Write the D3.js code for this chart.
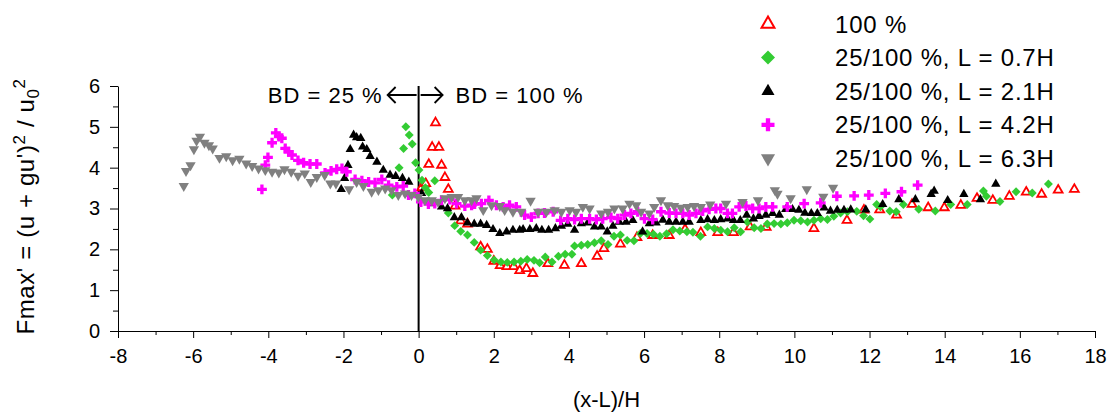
<!DOCTYPE html>
<html>
<head>
<meta charset="utf-8">
<script src="https://cdn.jsdelivr.net/npm/d3@7"></script>
<style>
  body { margin: 0; background: #fff; }
  svg { font-family: "Liberation Sans", Arial, sans-serif; }
</style>
</head>
<body>
<script>
// series: [ (x-L)/H , Fmax' ]
var red100 = [[0.08,3.51],[0.19,3.61],[0.27,4.08],[0.36,4.50],[0.45,5.10],[0.54,4.50],[0.61,4.06],[0.70,3.76],[0.79,3.47],[0.97,3.06],[1.12,2.70],[1.30,2.62],[1.65,2.06],[1.83,2.00],[2.00,1.71],[2.17,1.60],[2.35,1.58],[2.53,1.58],[2.69,1.48],[2.87,1.53],[3.04,1.41],[3.44,1.65],[3.88,1.61],[4.33,1.65],[4.75,1.83],[4.93,2.02],[5.37,2.13],[5.81,2.29],[6.23,2.34],[6.67,2.34],[7.09,2.49],[7.51,2.41],[7.96,2.41],[8.38,2.41],[8.82,2.55],[9.25,2.54],[10.52,2.51],[11.40,2.71],[11.85,2.96],[12.27,2.97],[12.72,2.84],[13.13,3.10],[13.56,3.02],[13.99,3.02],[14.43,3.08],[14.86,3.25],[15.28,3.20],[15.72,3.30],[16.17,3.40],[16.58,3.35],[17.02,3.45],[17.45,3.47]];

var green07 = [[-0.70,3.33],[-0.52,4.00],[-0.40,4.47],[-0.34,5.00],[-0.25,4.80],[-0.17,4.58],[-0.08,4.12],[0.01,3.94],[0.09,3.69],[0.18,3.51],[0.27,3.39],[0.43,3.68],[0.79,2.89],[0.96,2.58],[1.12,2.44],[1.30,2.35],[1.48,2.17],[1.65,1.98],[1.83,1.85],[2.01,1.74],[2.19,1.69],[2.36,1.68],[2.54,1.69],[2.72,1.71],[2.89,1.75],[3.07,1.73],[3.22,1.67],[3.37,1.81],[3.55,1.69],[3.72,1.83],[3.90,1.88],[4.08,1.88],[4.15,2.08],[4.33,2.10],[4.50,2.12],[4.68,2.16],[4.86,2.21],[5.04,2.12],[5.20,2.32],[5.37,2.35],[5.55,2.22],[5.73,2.21],[5.90,2.39],[6.08,2.39],[6.25,2.37],[6.42,2.32],[6.60,2.38],[6.77,2.48],[6.95,2.45],[7.14,2.43],[7.30,2.42],[7.50,2.32],[7.69,2.55],[7.87,2.51],[8.04,2.47],[8.22,2.43],[8.40,2.53],[8.57,2.43],[8.75,2.67],[8.93,2.53],[9.11,2.51],[9.28,2.62],[9.46,2.63],[9.64,2.62],[9.81,2.65],[9.99,2.71],[10.17,2.70],[10.35,2.67],[10.52,2.71],[10.70,2.75],[10.88,2.73],[11.05,2.81],[11.23,2.89],[11.41,2.92],[11.66,2.93],[11.84,2.82],[12.01,2.74],[12.19,3.10],[12.29,3.04],[12.54,2.94],[12.71,2.92],[12.90,3.10],[13.31,2.98],[13.75,2.94],[14.16,3.10],[14.60,3.10],[15.03,3.43],[15.11,3.30],[15.47,3.17],[15.90,3.41],[16.33,3.38],[16.76,3.60]];

var black21 = [[-2.06,3.47],[-1.97,3.74],[-1.88,4.06],[-1.82,4.45],[-1.73,4.80],[-1.65,4.74],[-1.54,4.72],[-1.49,4.51],[-1.38,4.45],[-1.29,4.28],[-1.11,4.14],[-0.94,3.94],[-0.76,3.82],[-0.61,3.79],[-0.43,3.74],[-0.26,3.65],[0.08,3.37],[0.35,3.12],[0.61,3.04],[0.77,3.00],[0.95,2.78],[1.14,2.78],[1.30,2.65],[1.48,2.62],[1.65,2.62],[1.81,2.59],[1.98,2.49],[2.16,2.39],[2.34,2.43],[2.51,2.47],[2.69,2.47],[2.78,2.49],[2.96,2.49],[3.13,2.51],[3.28,2.47],[3.46,2.47],[3.64,2.51],[3.80,2.57],[3.97,2.62],[4.15,2.47],[4.33,2.63],[4.50,2.65],[4.68,2.55],[4.86,2.55],[5.02,2.43],[5.17,2.57],[5.34,2.67],[5.52,2.67],[5.70,2.71],[5.96,2.43],[6.14,2.63],[6.32,2.65],[6.50,2.72],[6.67,2.67],[6.85,2.67],[7.03,2.67],[7.20,2.67],[7.51,2.71],[7.69,2.73],[7.87,2.71],[8.04,2.73],[8.22,2.75],[8.38,2.71],[8.56,2.71],[8.73,2.84],[8.91,2.75],[9.06,2.81],[9.24,2.84],[9.42,2.88],[9.60,2.84],[9.77,2.98],[9.95,2.98],[10.12,2.96],[10.28,2.89],[10.45,2.88],[10.61,2.88],[10.79,3.02],[10.96,2.94],[11.14,2.96],[11.32,2.96],[11.50,2.97],[11.90,2.97],[12.35,3.10],[12.78,3.22],[13.22,3.22],[13.64,3.35],[13.72,3.43],[14.08,3.20],[14.51,3.35],[14.95,3.22],[15.36,3.60]];

var magenta42 = [[-4.17,3.47],[-4.08,4.06],[-4.01,4.25],[-3.90,4.61],[-3.80,4.85],[-3.72,4.76],[-3.64,4.72],[-3.55,4.47],[-3.46,4.39],[-3.37,4.31],[-3.21,4.18],[-3.06,4.12],[-2.89,4.09],[-2.71,4.09],[-2.49,3.87],[-2.33,3.92],[-2.18,3.96],[-2.04,3.98],[-1.91,3.90],[-1.69,3.71],[-1.51,3.68],[-1.33,3.65],[-1.16,3.63],[-0.98,3.71],[-0.80,3.57],[-0.58,3.53],[-0.41,3.55],[-0.27,3.33],[-0.10,3.37],[0.06,3.16],[0.26,3.11],[0.43,3.12],[0.61,3.20],[0.83,3.22],[1.01,3.12],[1.23,3.06],[1.41,3.08],[1.49,3.11],[1.67,3.12],[1.87,3.20],[2.07,3.08],[2.25,3.04],[2.42,3.08],[2.60,3.04],[2.82,2.84],[3.00,2.79],[3.18,2.88],[3.35,2.89],[3.58,2.92],[3.78,2.71],[3.97,2.75],[4.15,2.73],[4.33,2.75],[4.55,2.75],[4.73,2.73],[4.90,2.75],[5.12,2.78],[5.30,2.75],[5.48,2.84],[5.65,2.88],[5.83,2.92],[6.01,2.75],[6.23,2.73],[6.45,2.92],[6.67,2.89],[6.85,2.88],[7.03,2.88],[7.20,2.84],[7.38,2.88],[7.56,2.94],[7.73,2.98],[7.91,3.00],[8.04,3.00],[8.22,2.88],[8.35,2.88],[8.53,3.04],[8.71,3.06],[8.89,3.00],[9.06,3.00],[9.24,3.04],[9.42,3.04],[9.81,3.04],[10.26,3.12],[10.70,3.14],[11.13,3.30],[11.59,3.31],[11.98,3.33],[12.42,3.37],[12.85,3.41],[13.28,3.57]];

var gray63 = [[-6.25,3.55],[-6.19,3.92],[-6.07,4.06],[-5.98,4.45],[-5.91,4.66],[-5.82,4.76],[-5.70,4.61],[-5.58,4.55],[-5.48,4.47],[-5.30,4.24],[-5.12,4.28],[-4.95,4.18],[-4.77,4.22],[-4.59,4.10],[-4.43,4.04],[-4.26,3.98],[-4.08,3.94],[-3.90,3.90],[-3.72,3.88],[-3.57,3.96],[-3.39,3.90],[-3.21,3.80],[-3.03,3.86],[-2.87,3.65],[-2.71,3.77],[-2.50,3.82],[-2.35,3.61],[-2.20,3.61],[-1.85,3.47],[-1.65,3.65],[-1.47,3.55],[-1.25,3.41],[-1.07,3.45],[-0.89,3.49],[-0.72,3.45],[-0.54,3.33],[-0.36,3.37],[-0.19,3.33],[-0.01,3.28],[0.17,3.20],[0.35,3.20],[0.52,3.16],[0.70,3.25],[0.88,3.28],[1.05,3.28],[1.23,3.20],[1.41,3.20],[1.54,3.25],[1.72,2.96],[1.94,3.08],[2.16,3.06],[2.29,2.96],[2.51,2.92],[2.73,2.92],[2.98,3.19],[3.18,2.92],[3.40,2.92],[3.62,2.96],[3.80,2.92],[4.02,2.96],[4.19,2.92],[4.37,3.04],[4.55,3.00],[4.86,2.88],[5.04,2.92],[5.21,3.00],[5.43,3.00],[5.61,3.12],[5.79,3.08],[5.92,2.92],[6.14,2.88],[6.27,3.04],[6.45,3.20],[6.63,3.08],[6.80,3.06],[6.98,3.02],[7.16,3.04],[7.33,3.06],[7.51,3.04],[7.76,3.10],[8.18,3.12],[8.62,3.16],[9.03,3.20],[9.48,3.45],[9.55,3.36],[9.90,3.25],[10.33,3.47],[10.77,3.29],[11.03,3.51]];

var seriesNames = ["100 %", "25/100 %, L = 0.7H", "25/100 %, L = 2.1H", "25/100 %, L = 4.2H", "25/100 %, L = 6.3H"];
var xTicks = [-8, -6, -4, -2, 0, 2, 4, 6, 8, 10, 12, 14, 16, 18];
var yTicks = [0, 1, 2, 3, 4, 5, 6];

var width = 1109, height = 414;

var x = d3.scaleLinear().domain([-8, 18]).range([118, 1095]);
var y = d3.scaleLinear().domain([0, 6]).range([331, 86]);

var svg = d3.select("body").append("svg")
	.attr("width", width)
	.attr("height", height);

// marker styles, one per series
var tri = d3.symbolTriangle, sq = d3.symbolSquare, cross = d3.symbolCross;
var styles = [
	{ data: red100, type: tri, size: 34, lsize: 72, fill: "#fff", stroke: "#ff0000", sw: 1.8, rot: 0 },
	{ data: green07, type: sq, size: 40, lsize: 98, fill: "#33cc33", stroke: "none", sw: 0, rot: 45 },
	{ data: black21, type: tri, size: 38, lsize: 74, fill: "#000", stroke: "none", sw: 0, rot: 0 },
	{ data: magenta42, type: cross, size: 54, lsize: 94, fill: "#ff00ff", stroke: "none", sw: 0, rot: 0 },
	{ data: gray63, type: tri, size: 46, lsize: 86, fill: "#808080", stroke: "none", sw: 0, rot: 180 }
];

// hyphen minus like the original, not the unicode one d3 uses
var fmt = function (d) { return String(d); };

// vertical divider at x = 0
svg.append("line")
	.attr("x1", x(0)).attr("x2", x(0))
	.attr("y1", y(0)).attr("y2", y(6))
	.attr("stroke", "#000").attr("stroke-width", 2);

// y axis, major + minor
svg.append("g")
	.attr("transform", "translate(" + x(-8) + ",0)")
	.call(d3.axisLeft(y).tickValues(d3.range(0.5, 6, 1)).tickSize(5).tickFormat(""))
	.call(g => g.select(".domain").remove());
svg.append("g")
	.attr("transform", "translate(" + x(-8) + ",0)")
	.call(d3.axisLeft(y).tickValues(yTicks).tickFormat(fmt).tickSize(8).tickSizeOuter(0).tickPadding(10));

// x axis, major + minor
svg.append("g")
	.attr("transform", "translate(0," + y(0) + ")")
	.call(d3.axisBottom(x).tickValues(d3.range(-7, 18, 2)).tickSize(4).tickFormat(""))
	.call(g => g.select(".domain").remove());
svg.append("g")
	.attr("transform", "translate(0," + y(0) + ")")
	.call(d3.axisBottom(x).tickValues(xTicks).tickFormat(fmt).tickSize(7).tickSizeOuter(0).tickPadding(11));

svg.selectAll(".tick text").attr("font-size", 20).attr("font-family", "Liberation Sans, Arial, sans-serif").attr("fill", "#000");
svg.selectAll(".domain, .tick line").attr("stroke", "#000").attr("stroke-width", 1);

// axis titles
svg.append("text")
	.attr("x", (x(-8) + x(18)) / 2).attr("y", 407)
	.attr("text-anchor", "middle").attr("font-size", 22)
	.text("(x-L)/H");

var yt = svg.append("text")
	.attr("transform", "translate(34," + ((y(0) + y(6)) / 2 - 2) + ") rotate(-90)")
	.attr("text-anchor", "middle").attr("font-size", 24).attr("letter-spacing", 0.6);
yt.append("tspan").text("Fmax' = (u + gu')");
yt.append("tspan").attr("font-size", 17).attr("dy", -9).text("2");
yt.append("tspan").attr("dy", 9).text(" / u");
yt.append("tspan").attr("font-size", 17).attr("dy", 5).text("0");
yt.append("tspan").attr("font-size", 17).attr("dy", -14).text("2");

// BD annotation with arrows either side of the divider
var ay = 95;
svg.append("text")
	.attr("x", x(0) - 36).attr("y", ay + 7.5)
	.attr("text-anchor", "end").attr("font-size", 22).attr("letter-spacing", 1)
	.text("BD = 25 %");
svg.append("text")
	.attr("x", x(0) + 37).attr("y", ay + 7.5)
	.attr("font-size", 22).attr("letter-spacing", 1)
	.text("BD = 100 %");
var arr = svg.append("g").attr("stroke", "#000").attr("stroke-width", 1.8).attr("fill", "none");
arr.append("path").attr("d", "M" + (x(0) - 2) + "," + ay + "H" + (x(0) - 31) + "M" + (x(0) - 23) + "," + (ay - 8) + "L" + (x(0) - 31) + "," + ay + "L" + (x(0) - 23) + "," + (ay + 8));
arr.append("path").attr("d", "M" + (x(0) + 2) + "," + ay + "H" + (x(0) + 24) + "M" + (x(0) + 16) + "," + (ay - 8) + "L" + (x(0) + 24) + "," + ay + "L" + (x(0) + 16) + "," + (ay + 8));

// points
styles.forEach(function (s) {
	svg.append("g").selectAll("path")
		.data(s.data)
		.enter().append("path")
		.attr("d", d3.symbol().type(s.type).size(s.size))
		.attr("transform", function (d) { return "translate(" + x(d[0]) + "," + y(d[1]) + ") rotate(" + s.rot + ")"; })
		.attr("fill", s.fill)
		.attr("stroke", s.stroke)
		.attr("stroke-width", s.sw);
});

// legend
var leg = svg.append("g");
styles.forEach(function (s, i) {
	var ly = 24 + i * 33.6;
	leg.append("path")
		.attr("d", d3.symbol().type(s.type).size(s.lsize))
		.attr("transform", "translate(768," + ly + ") rotate(" + s.rot + ")")
		.attr("fill", s.fill)
		.attr("stroke", s.stroke)
		.attr("stroke-width", s.sw ? 2 : 0);
	leg.append("text")
		.attr("x", 835).attr("y", ly + 8.5)
		.attr("font-size", 24).attr("letter-spacing", 0.8)
		.text(seriesNames[i]);
});
</script>
</body>
</html>
